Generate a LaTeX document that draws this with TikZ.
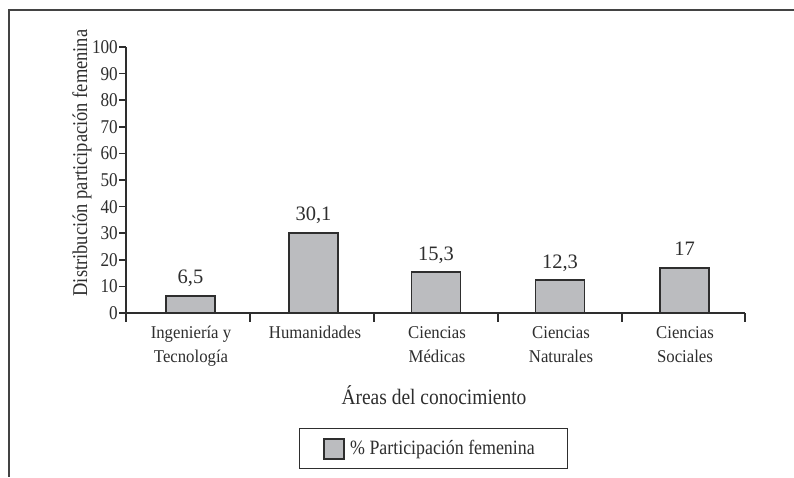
\documentclass[tikz,border=0pt]{standalone}
\usepackage{fontspec}
\setmainfont[FakeStretch=0.88]{Liberation Serif}
\newfontfamily\fcat[FakeStretch=0.93]{Liberation Serif}
\newfontfamily\fval[FakeStretch=1.0]{Liberation Serif}
\newfontfamily\ftitle[FakeStretch=0.885]{Liberation Serif}
\definecolor{barfill}{HTML}{BBBCBF}
\definecolor{ink}{HTML}{2E2E2E}
\begin{document}
\begin{tikzpicture}[x=1pt,y=-1pt,
  axisline/.style={draw=ink,line width=2pt},
  bar/.style={draw=ink,line width=1.7pt,fill=barfill},
  ticklab/.style={anchor=base east,inner sep=0pt,font=\fontsize{19.5}{19.5}\selectfont,text=ink},
  vallab/.style={anchor=base,inner sep=0pt,font=\fval\fontsize{20.5}{20.5}\selectfont,text=ink},
  catlab/.style={anchor=base,inner sep=0pt,font=\fcat\fontsize{18}{18}\selectfont,text=ink},
  titlelab/.style={inner sep=0pt,text=ink}]
\useasboundingbox (0,0) rectangle (794,477);
\fill[white] (0,0) rectangle (794,477);
% frame
\draw[draw=ink!90,line width=2pt] (794,10) -- (9,10) -- (9,477);
% axes
\coordinate (o) at (126,313);
\coordinate (ytop) at (126,47);
\coordinate (ybot) at (126,321);
\coordinate (xend) at (745,313);
\draw[axisline] (ytop) -- (ybot);
\draw[axisline] (o) -- (xend);
% y ticks
\foreach \v [count=\i] in {0,10,...,100}{
  \coordinate (yt\i) at (126,313-2.66*\v);
  \coordinate (ytl\i) at (119,313-2.66*\v);
  \draw[axisline,line width=1.6pt] (ytl\i) -- (yt\i);
  \node[ticklab] (tl\i) at (118,319.5-2.66*\v) {\v};
}
% x ticks
\foreach \x [count=\i] in {126,250,374,498,622,745}{
  \coordinate (xt\i) at (\x,313);
  \coordinate (xb\i) at (\x,322);
  \draw[axisline] (xt\i) -- (xb\i);
}
% bars
\foreach \c/\v/\lab [count=\i] in {190.5/6.5/{6,5},313.5/30.1/{30,1},436/15.3/{15,3},560/12.3/{12,3},684.5/17/17}{
  \draw[bar] (\c-24.5,313) rectangle (\c+24.5,313-2.66*\v);
  \node[vallab] (v\i) at (\c,313-2.66*\v-12) {\lab};
}
% category labels
\node[catlab] (c1a) at (191,338) {Ingeniería y};
\node[catlab] (c1b) at (191,362) {Tecnología};
\node[catlab] (c2a) at (315,338) {Humanidades};
\node[catlab] (c3a) at (437,338) {Ciencias};
\node[catlab] (c3b) at (437,362) {Médicas};
\node[catlab] (c4a) at (561,338) {Ciencias};
\node[catlab] (c4b) at (561,362) {Naturales};
\node[catlab] (c5a) at (685,338) {Ciencias};
\node[catlab] (c5b) at (685,362) {Sociales};
% axis titles
\node[titlelab,anchor=base,font=\ftitle\fontsize{22}{22}\selectfont] (xtitle) at (434,404) {Áreas del conocimiento};
\node[titlelab,anchor=base,rotate=90,font=\fontsize{21}{21}\selectfont] (ytitle) at (87,163) {Distribución participación femenina};
% legend
\node[draw=ink,line width=1pt,minimum width=268pt,minimum height=40pt,inner sep=0pt] (legend) at (433,448) {};
\draw[bar,line width=1.4pt] (324,439) rectangle (344,459);
\node[anchor=base west,inner sep=0pt,font=\fontsize{20.3}{20.3}\selectfont,text=ink] (legtext) at (350,454) {\% Participación femenina};
\end{tikzpicture}
\end{document}
